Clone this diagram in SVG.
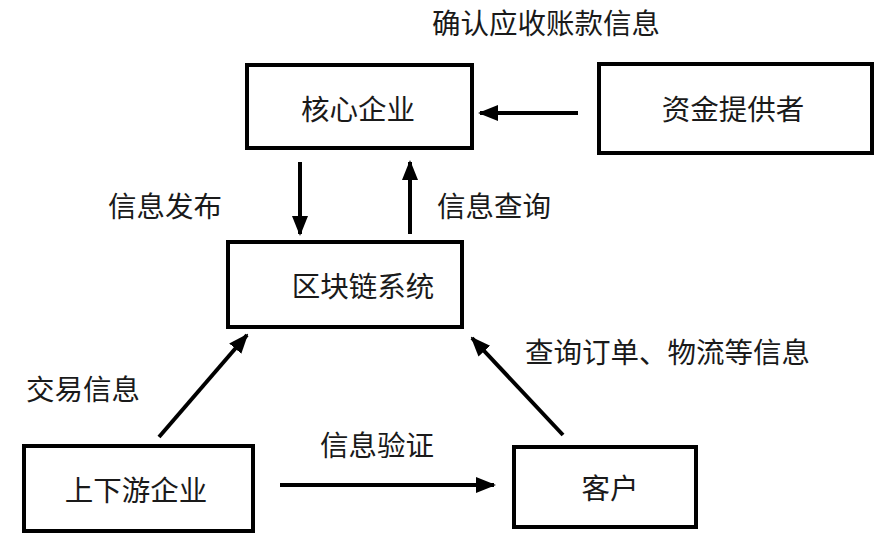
<svg xmlns="http://www.w3.org/2000/svg" width="886" height="541" viewBox="0 0 886 541">
<style>
.box{fill:#fff;stroke:#000;stroke-width:4}
.t{font-family:"Liberation Serif","Noto Sans CJK SC",serif;font-size:28.5px;fill:#1a1a1a}
.c{text-anchor:middle}
.edge{stroke:#000;stroke-width:4;fill:none;marker-end:url(#ah)}
</style>
<defs>
<marker id="ah" markerUnits="userSpaceOnUse" markerWidth="20" markerHeight="20" viewBox="0 0 20 20" refX="18" refY="10" orient="auto">
<path d="M0,2 L20,10 L0,18 Z" fill="#000"/>
</marker>
</defs>
<rect width="886" height="541" fill="#fff"/>
<g id="n-core"><rect class="box" x="247" y="65" width="225" height="83"/><text class="t c" x="358" y="120">核心企业</text></g>
<g id="n-fund"><rect class="box" x="599" y="64" width="273" height="89"/><text class="t c" x="733" y="120">资金提供者</text></g>
<g id="n-chain"><rect class="box" x="228" y="242" width="234" height="85"/><text class="t c" x="363" y="297">区块链系统</text></g>
<g id="n-up"><rect class="box" x="24" y="446" width="229" height="85"/><text class="t c" x="136" y="501">上下游企业</text></g>
<g id="n-cust"><rect class="box" x="514" y="447" width="182" height="80"/><text class="t c" x="610" y="499">客户</text></g>
<g id="edges">
<line class="edge" x1="578" y1="113" x2="480" y2="113"/>
<line class="edge" x1="300" y1="162" x2="300" y2="234"/>
<line class="edge" x1="410" y1="234" x2="410" y2="162"/>
<line class="edge" x1="159" y1="437" x2="247" y2="335"/>
<line class="edge" x1="563" y1="435" x2="472" y2="338"/>
<line class="edge" x1="280" y1="485" x2="494" y2="485"/>
</g>
<g id="labels">
<text class="t" x="432" y="34">确认应收账款信息</text>
<text class="t" x="108" y="217">信息发布</text>
<text class="t" x="437" y="217">信息查询</text>
<text class="t" x="26" y="400">交易信息</text>
<text class="t" x="525" y="363">查询订单、物流等信息</text>
<text class="t" x="320" y="456">信息验证</text>
</g>
</svg>
